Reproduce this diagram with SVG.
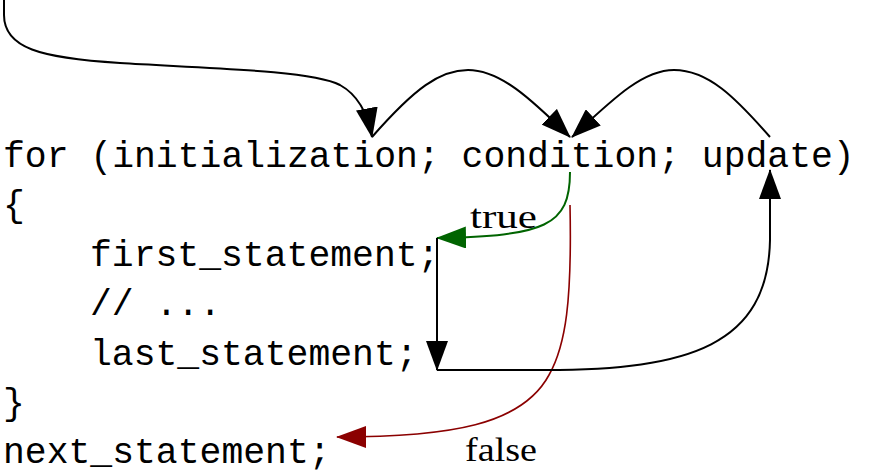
<svg xmlns="http://www.w3.org/2000/svg" width="875" height="475" viewBox="0 0 875 475">
<style>
.code{font-family:"Liberation Mono","Courier New",monospace;font-size:36.4px;fill:#000}
.lbl{font-family:"Liberation Serif","Times New Roman",serif;font-size:33px;fill:#000}
.c{fill:none;stroke-width:2}
.k{stroke:#000}
.g{stroke:#006400}
.r{stroke:#8b0000;stroke-width:1.6}
</style>
<defs>
<marker id="ak" markerUnits="userSpaceOnUse" markerWidth="30" markerHeight="22" refX="29" refY="11" orient="auto"><path d="M0,0 L30,11 L0,22 z" fill="#000"/></marker>
<marker id="ag" markerUnits="userSpaceOnUse" markerWidth="30" markerHeight="22" refX="29" refY="11" orient="auto"><path d="M0,0 L30,11 L0,22 z" fill="#006400"/></marker>
<marker id="ar" markerUnits="userSpaceOnUse" markerWidth="30" markerHeight="22" refX="29" refY="11" orient="auto"><path d="M0,0 L30,11 L0,22 z" fill="#8b0000"/></marker>
</defs>
<g id="code">
<text id="line-for" class="code" x="3" y="167">for (initialization; condition; update)</text>
<text id="line-open" class="code" x="3" y="216">{</text>
<text id="line-first" class="code" x="90" y="266">first_statement;</text>
<text id="line-comment" class="code" x="90" y="315">// ...</text>
<text id="line-last" class="code" x="90" y="365">last_statement;</text>
<text id="line-close" class="code" x="3" y="414">}</text>
<text id="line-next" class="code" x="3" y="463">next_statement;</text>
</g>
<g id="connectors">
<path class="c k" marker-end="url(#ak)" d="M4,0 L4,15 C4,48 40,58 120,63 C200,68 310,70 340,85 C358,95 368,115 372,137"/>
<path class="c k" marker-end="url(#ak)" d="M372,137 C415,88 440,70 468,70 C500,70 530,98 570,137"/>
<path class="c k" marker-end="url(#ak)" d="M770,137 C735,97 708,70 674,70 C642,70 612,100 572,137"/>
<path class="c g" marker-end="url(#ag)" d="M570,172 C570,226 545,236 437,238"/>
<path class="c r" marker-end="url(#ar)" d="M570,205 C572,300 566,345 549,375 C522,425 450,437 337,437"/>
<path class="c k" marker-end="url(#ak)" d="M437,238 L437,370"/>
<path class="c k" marker-end="url(#ak)" d="M437,370 L545,370 C690,370 768,345 770,240 L770,170"/>
</g>
<g id="labels">
<text id="lbl-true" class="lbl" x="470" y="228" textLength="67" lengthAdjust="spacingAndGlyphs">true</text>
<text id="lbl-false" class="lbl" x="465" y="461" textLength="72" lengthAdjust="spacingAndGlyphs">false</text>
</g>
</svg>
